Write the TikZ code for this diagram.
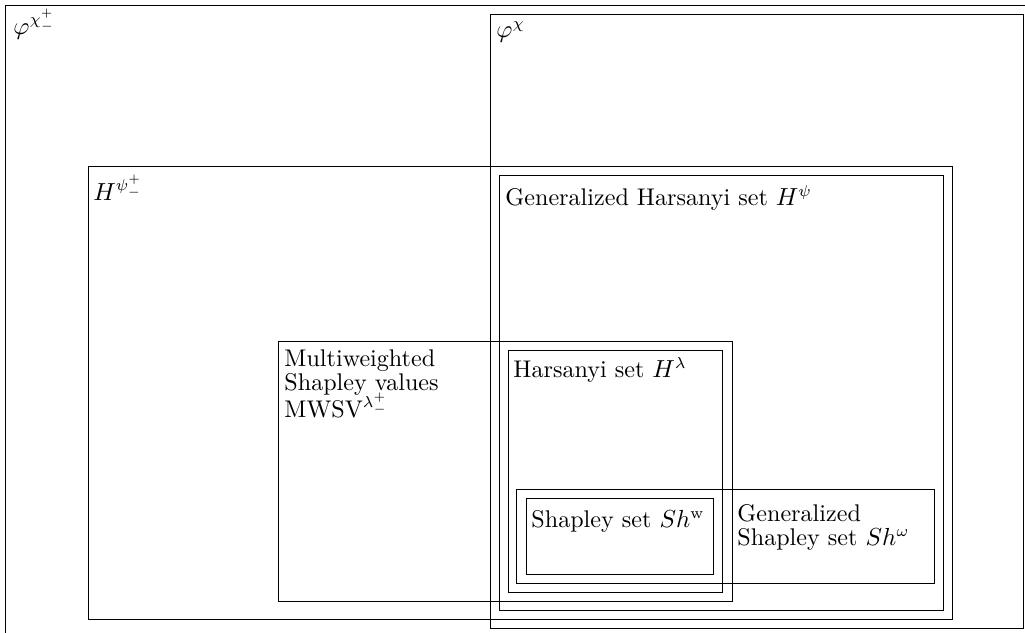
\documentclass[tikz,border=0pt]{standalone}
\usepackage{amsmath, amssymb}
\usepackage{tikz}

\begin{document}
\begin{tikzpicture}[x=0.0156cm, y=-0.0156cm, every node/.style={font={\fontsize{10.7}{10.6}\selectfont\lineskiplimit=-6pt\relax}},
  setbox/.style={draw, line width=0.35pt},
  lbl/.style={anchor=north west, inner sep=0pt, align=left}]
\useasboundingbox (0,0) rectangle (1025,633);
% the boxes, outermost first
\draw[setbox] (5,5) rectangle (1040,650);
\draw[setbox] (490,14) rectangle (1023,628);
\draw[setbox] (88,166) rectangle (952,619);
\draw[setbox] (499,175) rectangle (943,610);
\draw[setbox] (278,341) rectangle (732,601);
\draw[setbox] (508,350) rectangle (722,592);
\draw[setbox] (516,489) rectangle (934,583);
\draw[setbox] (526,498) rectangle (713,574);
% the labels
\node[lbl] (phipm) at (13,9) {$\varphi^{\chi^+_-}$};
\node[lbl] (phi) at (496,21) {$\varphi^{\chi}$};
\node[lbl] (Hpsipm) at (93,175) {$H^{\psi^+_-}$};
\node[lbl] (Hpsi) at (505,185) {Generalized Harsanyi set $H^{\psi}$};
\node[lbl] (mwsv) at (284,349) {Multiweighted\\Shapley values\\[1.5pt]MWSV$^{\lambda^+_-}$};
\node[lbl] (Hlam) at (513,357) {Harsanyi set $H^{\lambda}$};
\node[lbl] (Shw) at (531,510) {Shapley set $Sh^{\mathrm{w}}$};
\node[lbl] (Shom) at (737,504) {Generalized\\Shapley set $Sh^{\omega}$};
\end{tikzpicture}
\end{document}
